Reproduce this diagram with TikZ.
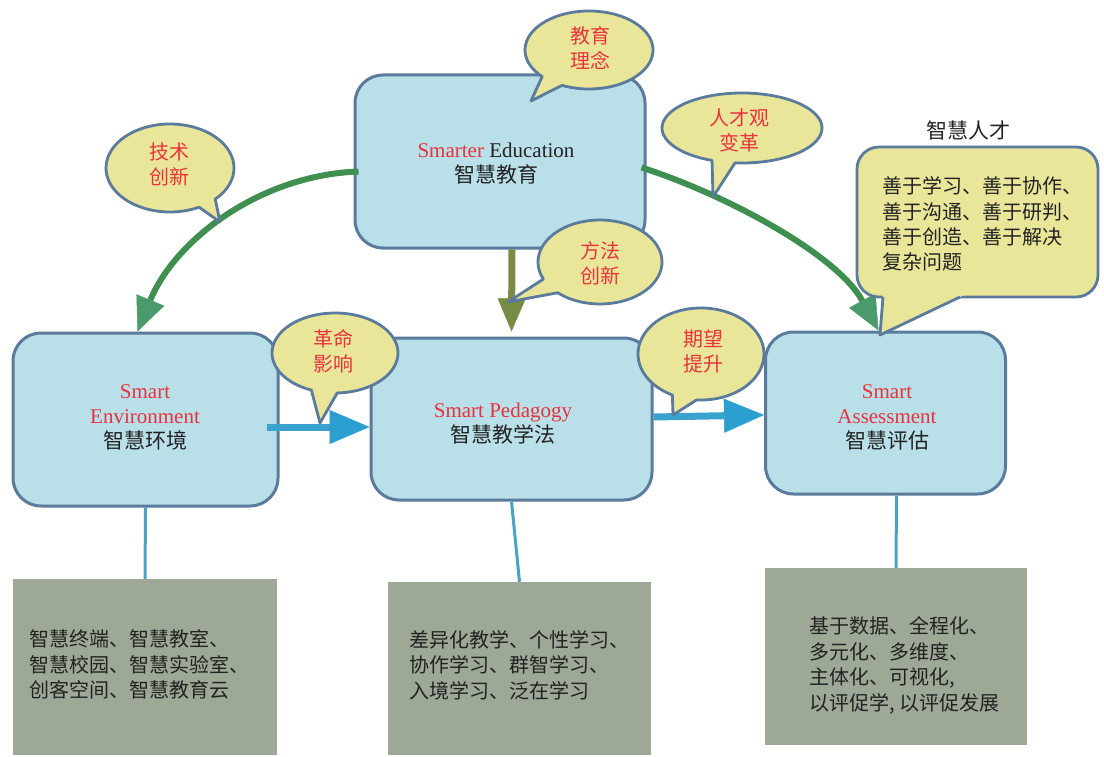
\documentclass[tikz,border=0pt]{standalone}
\usepackage{fontspec}
\setmainfont{Liberation Serif}
\newfontfamily\cjk{Noto Sans CJK SC}
\usetikzlibrary{arrows.meta,calc}

\definecolor{boxfill}{HTML}{B9DFE8}
\definecolor{boxline}{HTML}{5A7B9C}
\definecolor{bubfill}{HTML}{E9E69A}
\definecolor{grayfill}{HTML}{9EA897}
\definecolor{hred}{HTML}{E8323C}
\definecolor{greenline}{HTML}{3F8F50}
\definecolor{greenhead}{HTML}{4B9A6C}
\definecolor{olivec}{HTML}{788B45}
\definecolor{blueline}{HTML}{3AA2CE}
\definecolor{bluehead}{HTML}{2A9FD0}
\definecolor{tealline}{HTML}{4AA3C2}
\definecolor{txt}{HTML}{222222}

% cx cy rx ry startangle endangle tipx tipy
\newcommand\speechbubble[8]{%
  \path[bubble] (#1,#2) ++(#5:#3 and #4)
    arc[start angle=#5, end angle=#6, x radius=#3, y radius=#4]
    -- (#7,#8) -- cycle;}

\begin{document}
\begin{tikzpicture}[x=1pt,y=-1pt,
  mainbox/.style={draw=boxline, line width=3pt, fill=boxfill, rounded corners=28pt, inner sep=0pt},
  graybox/.style={fill=grayfill, inner sep=0pt},
  bubble/.style={draw=boxline, line width=2.8pt, fill=bubfill, line join=round},
  btext/.style={font=\cjk\fontsize{20}{25}\selectfont, text=hred, align=center, inner sep=0pt},
  ltext/.style={font=\cjk\fontsize{20}{25.5}\selectfont, text=txt, align=left, inner sep=0pt, anchor=west},
  ctext/.style={font=\fontsize{21}{25}\selectfont, text=txt, align=center, inner sep=0pt},
  link/.style={draw=tealline, line width=3pt},
  greenarrow/.style={draw=greenline, line width=6pt, -{Triangle[width=30pt,length=34pt,line width=0.5pt,color=greenhead]}},
  olivearrow/.style={draw=olivec, line width=7pt, -{Triangle[width=28pt,length=33pt,line width=0.5pt,color=olivec]}},
  bluearrow/.style={draw=blueline, line width=7pt, -{Triangle[width=34pt,length=40pt,line width=0.5pt,color=bluehead]}}
]
\useasboundingbox (0,0) rectangle (1104,757);

% main boxes
\node[mainbox, minimum width=290pt, minimum height=173pt] (edu) at (500,161.5) {};
\node[mainbox, minimum width=265pt, minimum height=173pt] (env) at (145.5,419.5) {};
\node[mainbox, minimum width=281pt, minimum height=162pt] (ped) at (511.5,419) {};
\node[mainbox, minimum width=240pt, minimum height=162pt] (ass) at (885.5,413) {};

\node[ctext] (edut) at (496,164) {{\color{hred}Smarter} Education\\{\cjk 智慧教育}};
\node[ctext] (envt) at (145,417.5) {{\color{hred}Smart}\\{\color{hred}Environment}\\{\cjk 智慧环境}};
\node[ctext] (pedt) at (503,423.5) {{\color{hred}Smart Pedagogy}\\{\cjk 智慧教学法}};
\node[ctext] (asst) at (887,417.5) {{\color{hred}Smart}\\{\color{hred}Assessment}\\{\cjk 智慧评估}};

% bottom boxes
\node[graybox, minimum width=264pt, minimum height=176pt] (b1) at (145,667) {};
\node[graybox, minimum width=263pt, minimum height=173pt] (b2) at (519.5,668.5) {};
\node[graybox, minimum width=262pt, minimum height=177pt] (b3) at (896,656.5) {};

\node[ltext] (b1t) at (29,664.5) {智慧终端、智慧教室、\\智慧校园、智慧实验室、\\创客空间、智慧教育云};
\node[ltext] (b2t) at (409,665) {差异化教学、个性学习、\\协作学习、群智学习、\\入境学习、泛在学习};
\node[ltext] (b3t) at (809,665.5) {基于数据、全程化、\\多元化、多维度、\\主体化、可视化,\\以评促学, 以评促发展};

% vertical links
\draw[link] (env.south) -- (b1.north);
\draw[link] (ped.south) -- (b2.north);
\draw[link] ([xshift=11pt]ass.south) -- (b3.north);

% arrows
\draw[greenarrow] ([xshift=5pt,yshift=-10pt]edu.west) .. controls (260,175) and (175,240) .. ([xshift=-8pt]env.north);
\draw[greenarrow] ([xshift=-5pt,yshift=-6pt]edu.east) .. controls (730,196) and (838,256) .. ([xshift=-7pt]ass.north);
\draw[olivearrow] ([xshift=12pt]edu.south) -- ([yshift=5pt]ped.north);
\draw[bluearrow] ([xshift=-13pt,yshift=-7.5pt]env.east) -- ([yshift=-8pt]ped.west);
\draw[bluearrow] ([yshift=2pt]ped.east) -- ([yshift=-2pt]ass.west);

% speech bubbles
\speechbubble{170}{168}{64}{44}{63}{405}{220}{222}
\node[btext] (bub1) at (169,164) {技术\\创新};
\speechbubble{589}{50}{64}{39}{137}{475}{531}{101}
\node[btext] (bub2) at (590,48) {教育\\理念};
\speechbubble{742}{128}{80}{35}{112}{455}{713}{197}
\node[btext] (bub3) at (739,130) {人才观\\变革};
\speechbubble{600}{262}{62}{42}{156}{493}{508}{302}
\node[btext] (bub4) at (600,263) {方法\\创新};
\speechbubble{335}{353}{63}{40}{112}{448}{320}{423}
\node[btext] (bub5) at (333,351) {革命\\影响};
\speechbubble{701}{354}{63}{46}{117}{454}{673}{415}
\node[btext] (bub6) at (703,351) {期望\\提升};

% talent callout
\node[bubble, rounded corners=22pt, minimum width=241pt, minimum height=150pt, inner sep=0pt] (talent) at (977.5,222) {};
\fill[bubfill] (883.4,292) -- (970.5,292) -- (880,335) -- cycle;
\draw[boxline, line width=2.8pt, line join=round] (883,297) -- (880,335) -- (960,297);
\node[ltext, font=\cjk\fontsize{20}{25.3}\selectfont] (talentt) at (882,224) {善于学习、善于协作、\\善于沟通、善于研判、\\善于创造、善于解决\\复杂问题};
\node[ctext, font=\cjk\fontsize{21}{25}\selectfont] (talenttitle) at (968,130) {智慧人才};

\end{tikzpicture}
\end{document}
